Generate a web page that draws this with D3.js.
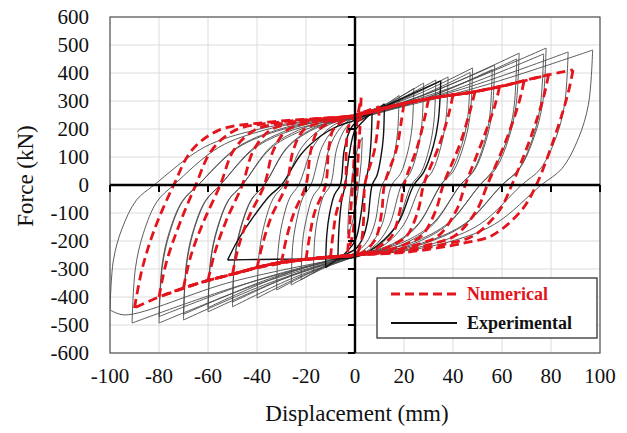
<!DOCTYPE html>
<html>
<head>
<meta charset="utf-8">
<script src="https://cdn.jsdelivr.net/npm/d3@7.9.0/dist/d3.min.js"></script>
<style>
  body { margin: 0; background: #fff; }
</style>
</head>
<body>
<div id="chart"></div>
<script>
const xTicks = [-100, -80, -60, -40, -20, 0, 20, 40, 60, 80, 100];
const yTicks = [-600, -500, -400, -300, -200, -100, 0, 100, 200, 300, 400, 500, 600];

// test loops, [displacement mm, force kN], traced from negative peak round to it again
const expCycles = [
  [[-100,-446],[-98.6,-268],[-95.1,-156],[-89.2,-54],[-82,0],[-61.5,135],[-41,196],[-20.5,228],[0,245],[48.5,345],[97,482],
   [95.3,289],[91.3,169],[84.4,58],[76,0],[57,-140],[38,-204],[19,-237],[0,-255],[-50,-345],[-94,-464]],
  [[-91,-493],[-89.6,-296],[-86.4,-173],[-80.8,-59],[-74,0],[-55.5,135],[-37,196],[-18.5,228],[0,245],[43.5,342],[87,475],
   [85.5,285],[81.9,166],[75.6,57],[68,0],[51,-140],[34,-204],[17,-237],[0,-255],[-45.5,-355]],
  [[-80,-493],[-78.7,-296],[-75.7,-173],[-70.4,-59],[-64,0],[-48,135],[-32,196],[-16,228],[0,245],[39,347],[78,489],
   [76.6,293],[73.1,171],[67.2,59],[60,0],[45,-140],[30,-204],[15,-237],[0,-255],[-40,-355]],
  [[-80,-470],[-78.7,-282],[-75.7,-165],[-70.4,-56],[-64,0],[-48,132],[-32,192],[-16,224],[0,240],[38.5,334],[77,468],
   [75.6,281],[72.4,164],[66.8,56],[60,0],[45,-137],[30,-200],[15,-232],[0,-250],[-40,-340]],
  [[-70,-482],[-68.8,-289],[-66,-169],[-61,-58],[-55,0],[-41,135],[-27.5,196],[-14,228],[0,245],[33.5,340],[67,471],
   [65.7,283],[62.7,165],[57.4,57],[51,0],[38,-140],[25.5,-204],[13,-237],[0,-255],[-35,-350]],
  [[-70,-462],[-68.8,-277],[-66,-162],[-61,-55],[-55,0],[-41,131],[-27.5,190],[-14,221],[0,238],[33,324],[66,450],
   [64.8,270],[61.9,158],[56.4,54],[51,0],[38,-136],[25.5,-198],[13,-230],[0,-248],[-35,-335]],
  [[-60,-453],[-58.9,-272],[-56.2,-159],[-51.6,-54],[-46,0],[-34.5,135],[-23,196],[-11.5,228],[0,245],[28.5,322],[57,428],
   [55.9,257],[53.2,150],[48.6,51],[43,0],[32,-140],[21.5,-204],[11,-237],[0,-255],[-30,-338]],
  [[-60,-438],[-58.9,-263],[-56.2,-153],[-51.6,-53],[-46,0],[-34.5,130],[-23,189],[-11.5,220],[0,236],[28,306],[56,412],
   [55,247],[52.5,144],[48.2,49],[43,0],[32,-135],[21.5,-197],[11,-229],[0,-246],[-30,-323]],
  [[-50,-435],[-49,-261],[-46.5,-152],[-42.2,-52],[-37,0],[-27.7,135],[-18.5,196],[-9.2,228],[0,245],[24,318],[48,418],
   [47,251],[44.5,146],[40.2,50],[35,0],[26,-140],[17.5,-204],[8.7,-237],[0,-255],[-25,-331]],
  [[-50,-418],[-49,-251],[-46.5,-146],[-42.2,-50],[-37,0],[-27.7,132],[-18.5,192],[-9.2,224],[0,240],[23.5,306],[47,402],
   [46,241],[43.5,141],[39.2,48],[35,0],[26,-137],[17.5,-200],[8.7,-232],[0,-250],[-25,-320]],
  [[-40,-404],[-39.1,-242],[-37,-141],[-33.4,-48],[-29,0],[-21.7,135],[-14.5,196],[-7.2,228],[0,245],[19,304],[38,386],
   [37.1,232],[35,135],[31.4,46],[27,0],[20,-140],[13.5,-204],[6.7,-237],[0,-255],[-20,-318]],
  [[-32,-375],[-31.3,-225],[-29.6,-131],[-26.6,-45],[-23,0],[-17.2,135],[-11.5,196],[-5.7,228],[0,245],[16.5,300],[33,375],
   [32.2,225],[30.3,131],[27,45],[23,0],[17.2,-140],[11.5,-204],[5.7,-237],[0,-255],[-16,-305]],
  [[-26,-357],[-25.4,-214],[-23.8,-125],[-21.2,-43],[-18,0],[-13.5,135],[-9,196],[-4.5,228],[0,245],[14,295],[28,364],
   [27.3,218],[25.6,127],[22.6,44],[19,0],[14.2,-140],[9.5,-204],[4.7,-237],[0,-255],[-13,-298]],
  [[-22,-339],[-21.4,-203],[-19.8,-119],[-17.2,-41],[-14,0],[-10.5,132],[-7,192],[-3.5,224],[0,240],[12,282],[24,345],
   [23.3,207],[21.6,121],[18.6,41],[15,0],[11.2,-137],[7.5,-200],[3.7,-232],[0,-250],[-11,-285]],
  [[-17,-315],[-16.4,-189],[-15.1,-110],[-12.8,-38],[-10,0],[-7.5,128],[-5,186],[-2.5,217],[0,233],[9,268],[18,320],
   [17.4,192],[16.1,112],[13.8,38],[11,0],[8.2,-133],[5.5,-194],[2.7,-225],[0,-243],[-8.5,-272]],
  [[-3,-175],[-2.5,-80],[-1.5,0],[0,90],[1.5,140],[3,170],[2.5,80],[1.5,0],[0,-90],[-1.5,-145]]
];

// darker test loops
const expHeavy = [
  [[-52,-268],[-48,-200],[-42,-120],[-35,-40],[-30,0],[-22,110],[-14,175],[-7,210],[0,232],[17,300],[35,372],
   [34,230],[32,140],[28,45],[24,0],[18,-130],[12,-195],[6,-235],[0,-258],[-20,-264],[-40,-266]],
  [[-12,-295],[-11.5,-177],[-10.4,-103],[-8.4,-35],[-6,0],[-4.5,120],[-3,175],[-1.5,205],[0,220],[6,250],[12,290],
   [11.6,174],[10.6,101],[9,35],[7,0],[5.2,-125],[3.5,-183],[1.7,-213],[0,-230],[-6,-258]],
  [[-7,-268],[-6.5,-150],[-5.5,-60],[-4,0],[-2.5,100],[-1,170],[0,195],[3,225],[7,262],
   [6.5,150],[5.5,60],[4,0],[2.5,-100],[1,-175],[0,-200],[-3,-235]]
];

// model loops
const numCycles = [
  [[-90,-439],[-87,-304],[-82,-162],[-74,0],[-66.6,124],[-55.5,196],[-37,223],[-14.8,238],[0,248],[21,293],[34,314],[48,332],[62,357],[75,386],[89,411],
   [87,329],[82,185],[74,0],[68,-90],[56,-180],[44,-208],[21,-240],[0,-250],[-32,-279],[-48,-314],[-62,-346],[-78,-393]],
  [[-80,-400],[-77,-276],[-72,-148],[-65,0],[-58.5,124],[-48.8,196],[-32.5,223],[-13,238],[0,248],[21,293],[34,314],[48,332],[62,357],[79,394],
   [77,315],[72,177],[64,0],[59,-90],[48.6,-180],[38.4,-208],[18,-240],[0,-250],[-32,-279],[-48,-314],[-62,-346]],
  [[-70,-366],[-67,-253],[-62,-135],[-55,0],[-49.5,124],[-41,196],[-27.5,223],[-11,238],[0,248],[21,293],[34,314],[48,332],[69,371],
   [67,297],[62,167],[54,0],[49.7,-90],[41,-180],[32.4,-208],[15,-240],[0,-250],[-32,-279],[-48,-314],[-62,-346]],
  [[-60,-341],[-57,-235],[-52.5,-126],[-46,0],[-41.4,124],[-34.5,196],[-23,223],[-9.2,238],[0,248],[21,293],[34,314],[48,332],[59,351],
   [57,281],[52,158],[45,0],[41.4,-90],[34.2,-180],[27,-208],[12.6,-240],[0,-250],[-32,-279],[-48,-314]],
  [[-50,-318],[-47.5,-219],[-43.5,-118],[-37,0],[-33.3,124],[-27.7,196],[-18.5,223],[-7.4,238],[0,248],[21,293],[34,314],[49,333],
   [47,266],[43,150],[36,0],[33,-90],[27.4,-180],[21.6,-208],[10,-240],[0,-250],[-32,-279]],
  [[-40,-296],[-37.5,-204],[-34,-110],[-28,0],[-25.2,124],[-21,196],[-14,223],[-5.6,238],[0,248],[21,293],[40,322],
   [38.4,258],[34.5,145],[28,0],[25.8,-90],[21.3,-180],[16.8,-208],[7.8,-240],[0,-250],[-20,-265]],
  [[-30,-277],[-28,-191],[-25,-102],[-20,0],[-18,124],[-15,196],[-10,223],[-4,238],[0,248],[15,282],[30,307],
   [28.6,246],[25.5,138],[20,0],[18.4,-90],[15.2,-180],[12,-208],[5.6,-240],[0,-250],[-15,-262]],
  [[-20,-265],[-18.5,-183],[-16.5,-98],[-12,0],[-10.8,124],[-9,196],[-6,223],[-2.4,238],[0,248],[10,272],[20,291],
   [19,233],[17,131],[12,0],[11,-90],[9,-180],[7.2,-208],[3.4,-240],[0,-250],[-10,-256]],
  [[-10,-258],[-9,-178],[-7.5,-95],[-4,0],[-3.6,124],[-3,196],[-2,223],[-0.8,238],[0,248],[5,265],[10,280],
   [9.5,224],[8,126],[4,0],[3.7,-90],[3,-180],[2.4,-208],[1.1,-240],[0,-250]],
  [[-3,-240],[-2,-120],[-1,0],[0,150],[1,240],[2.5,312],[2,200],[1,60],[0,-80],[-1,-180]]
];

const legendItems = [
  { label: 'Numerical', color: '#e3141c', dash: '9,5', width: 2.8 },
  { label: 'Experimental', color: '#111', dash: null, width: 2.2 }
];

const W = 627, H = 433;
const plotLeft = 110, plotRight = 600, plotTop = 17, plotBottom = 353;
const serif = '"Liberation Serif", "Times New Roman", serif';

const svg = d3.select('#chart').append('svg')
  .attr('width', W).attr('height', H)
  .attr('font-family', serif);

const x = d3.scaleLinear().domain([-100, 100]).range([plotLeft, plotRight]);
const y = d3.scaleLinear().domain([-600, 600]).range([plotBottom, plotTop]);

// grid
svg.append('g').selectAll('line').data(xTicks).join('line')
  .attr('x1', d => x(d)).attr('x2', d => x(d))
  .attr('y1', plotTop).attr('y2', plotBottom)
  .attr('stroke', '#dcdcdc').attr('stroke-width', 1);
svg.append('g').selectAll('line').data(yTicks).join('line')
  .attr('x1', plotLeft).attr('x2', plotRight)
  .attr('y1', d => y(d)).attr('y2', d => y(d))
  .attr('stroke', '#dcdcdc').attr('stroke-width', 1);

svg.append('rect')
  .attr('x', plotLeft).attr('y', plotTop)
  .attr('width', plotRight - plotLeft).attr('height', plotBottom - plotTop)
  .attr('fill', 'none').attr('stroke', '#555').attr('stroke-width', 1.2);

svg.append('clipPath').attr('id', 'plot-clip')
  .append('rect')
  .attr('x', plotLeft).attr('y', plotTop)
  .attr('width', plotRight - plotLeft).attr('height', plotBottom - plotTop);

const branch = d3.line()
  .x(d => x(d[0]))
  .y(d => y(d[1]))
  .curve(d3.curveCatmullRom.alpha(0.5));

// each loop is smooth along a branch but keeps a sharp corner at both peaks
function loopPath(pts) {
  const peak = d3.maxIndex(pts, d => d[0]);
  const rising = pts.slice(0, peak + 1);
  const falling = pts.slice(peak).concat([pts[0]]);
  return branch(rising) + branch(falling);
}

const plot = svg.append('g').attr('clip-path', 'url(#plot-clip)');

plot.append('g').selectAll('path').data(expCycles).join('path')
  .attr('d', loopPath)
  .attr('fill', 'none')
  .attr('stroke', '#4a4a4a')
  .attr('stroke-width', 0.9);

plot.append('g').selectAll('path').data(expHeavy).join('path')
  .attr('d', loopPath)
  .attr('fill', 'none')
  .attr('stroke', '#111')
  .attr('stroke-width', 1.4);

plot.append('g').selectAll('path').data(numCycles).join('path')
  .attr('d', loopPath)
  .attr('fill', 'none')
  .attr('stroke', '#e3141c')
  .attr('stroke-width', 2.8)
  .attr('stroke-dasharray', '9,5');

// axes through the origin
svg.append('line')
  .attr('x1', plotLeft).attr('x2', plotRight)
  .attr('y1', y(0)).attr('y2', y(0))
  .attr('stroke', '#000').attr('stroke-width', 2.4);
svg.append('line')
  .attr('x1', x(0)).attr('x2', x(0))
  .attr('y1', plotTop).attr('y2', plotBottom)
  .attr('stroke', '#000').attr('stroke-width', 2.4);

svg.append('g').selectAll('line').data(xTicks).join('line')
  .attr('x1', d => x(d)).attr('x2', d => x(d))
  .attr('y1', y(0)).attr('y2', y(0) + 7)
  .attr('stroke', '#000').attr('stroke-width', 2);
svg.append('g').selectAll('line').data(yTicks).join('line')
  .attr('x1', x(0) - 7).attr('x2', x(0))
  .attr('y1', d => y(d)).attr('y2', d => y(d))
  .attr('stroke', '#000').attr('stroke-width', 2);

// tick labels
svg.append('g').selectAll('text').data(xTicks).join('text')
  .attr('x', d => x(d)).attr('y', 383)
  .attr('text-anchor', 'middle')
  .attr('font-size', 21)
  .attr('fill', '#111')
  .text(d => d);
svg.append('g').selectAll('text').data(yTicks).join('text')
  .attr('x', 89).attr('y', d => y(d) + 7)
  .attr('text-anchor', 'end')
  .attr('font-size', 21)
  .attr('fill', '#111')
  .text(d => d);

svg.append('text')
  .attr('x', 357).attr('y', 421)
  .attr('text-anchor', 'middle')
  .attr('font-size', 23)
  .attr('fill', '#111')
  .text('Displacement (mm)');
svg.append('text')
  .attr('transform', 'translate(33,176) rotate(-90)')
  .attr('text-anchor', 'middle')
  .attr('font-size', 23)
  .attr('fill', '#111')
  .text('Force (kN)');

// legend
const legend = svg.append('g');
legend.append('rect')
  .attr('x', 377).attr('y', 278)
  .attr('width', 220).attr('height', 60)
  .attr('fill', '#fff').attr('stroke', '#222').attr('stroke-width', 1.2);
legendItems.forEach((item, i) => {
  const ly = 294 + i * 29;
  legend.append('line')
    .attr('x1', 391).attr('x2', 457)
    .attr('y1', ly).attr('y2', ly)
    .attr('stroke', item.color)
    .attr('stroke-width', item.width)
    .attr('stroke-dasharray', item.dash);
  legend.append('text')
    .attr('x', 467).attr('y', ly + 6)
    .attr('font-size', 18)
    .attr('font-weight', 'bold')
    .attr('fill', item.color)
    .text(item.label);
});
</script>
</body>
</html>
